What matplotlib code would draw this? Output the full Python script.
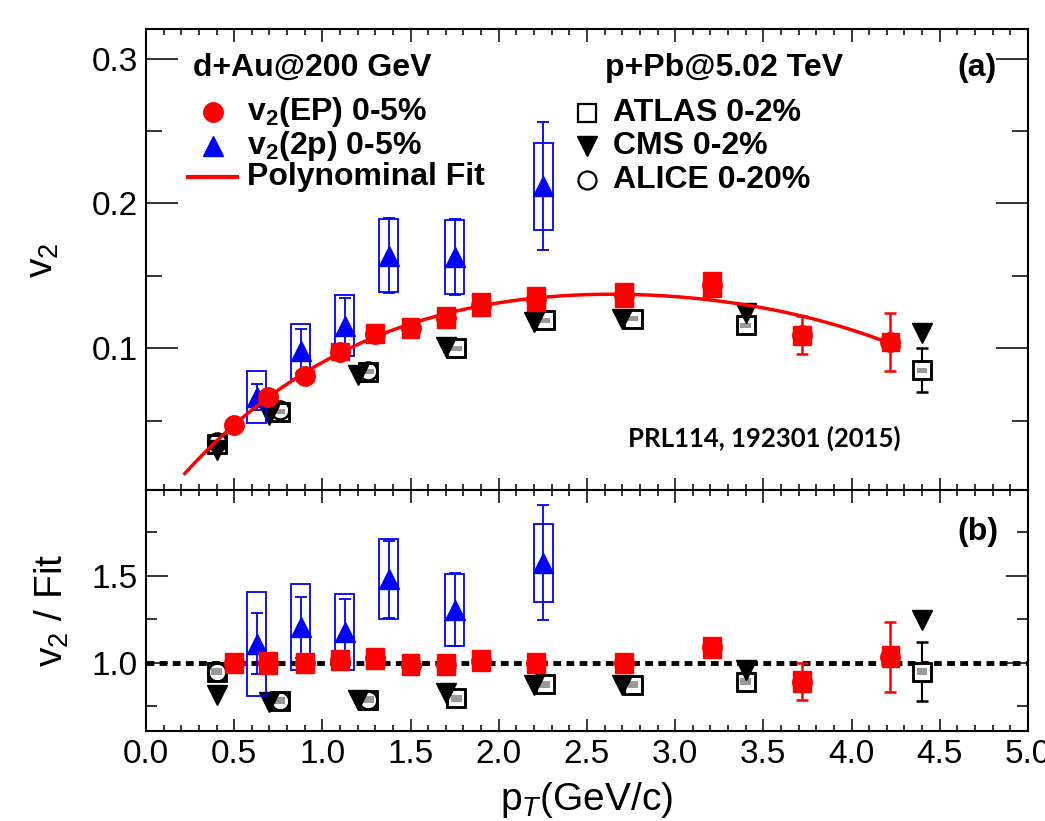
import numpy as np
import matplotlib.pyplot as plt
from matplotlib.patches import Rectangle
from matplotlib.ticker import MultipleLocator, FormatStrFormatter

plt.rcParams['font.family'] = ['Liberation Sans', 'DejaVu Sans']
plt.rcParams['mathtext.fontset'] = 'custom'
plt.rcParams['mathtext.rm'] = 'Liberation Sans'
plt.rcParams['mathtext.it'] = 'Liberation Sans:italic'
plt.rcParams['mathtext.bf'] = 'Liberation Sans:bold'

# d+Au 200 GeV, v2(EP) 0-5%
pt_ep = [0.50, 0.69, 0.90, 1.10, 1.30, 1.50, 1.70, 1.90, 2.21, 2.71, 3.21, 3.72, 4.22]
v2_ep = [0.047, 0.066, 0.081, 0.0975, 0.110, 0.114, 0.121, 0.130, 0.134, 0.137, 0.144, 0.109, 0.104]
v2_ep_stat = [0.001, 0.001, 0.001, 0.001, 0.001, 0.001, 0.001, 0.002, 0.002, 0.002, 0.002, 0.013, 0.020]
v2_ep_sys = [0.003, 0.0035, 0.004, 0.006, 0.0066, 0.0068, 0.0072, 0.0078, 0.008, 0.0082, 0.0086, 0.0065, 0.0062]
ratio_ep = [1.00, 1.00, 1.00, 1.017, 1.027, 0.989, 0.989, 1.013, 1.00, 1.00, 1.09, 0.893, 1.036]
ratio_ep_stat = [0.01, 0.01, 0.01, 0.01, 0.01, 0.01, 0.01, 0.01, 0.01, 0.01, 0.01, 0.108, 0.20]
ratio_ep_sys = [0.06, 0.062, 0.06, 0.06, 0.06, 0.06, 0.06, 0.06, 0.06, 0.06, 0.06, 0.06, 0.06]

# d+Au 200 GeV, v2(2p) 0-5%
pt_2p = [0.627, 0.877, 1.126, 1.376, 1.75, 2.252]
v2_2p = [0.066, 0.098, 0.1155, 0.164, 0.163, 0.212]
v2_2p_stat = [0.009, 0.015, 0.019, 0.026, 0.026, 0.044]
v2_2p_sys = [0.018, 0.019, 0.021, 0.0255, 0.0255, 0.030]
ratio_2p = [1.11, 1.206, 1.18, 1.48, 1.305, 1.575]
ratio_2p_stat = [0.176, 0.175, 0.19, 0.22, 0.21, 0.33]
ratio_2p_sys = [0.30, 0.246, 0.218, 0.23, 0.205, 0.225]

# p+Pb 5.02 TeV
pt_atlas = [0.40, 0.76, 1.26, 1.76, 2.26, 2.76, 3.40, 4.40]
v2_atlas = [0.034, 0.056, 0.0836, 0.0998, 0.1194, 0.1205, 0.1159, 0.0848]
v2_atlas_stat = [0.001, 0.001, 0.001, 0.001, 0.001, 0.002, 0.004, 0.015]
v2_atlas_sys = [0.0017, 0.0017, 0.0017, 0.0017, 0.0017, 0.0017, 0.0017, 0.0017]
ratio_atlas = [0.95, 0.783, 0.79, 0.797, 0.879, 0.874, 0.893, 0.95]
ratio_atlas_stat = [0.01, 0.01, 0.01, 0.01, 0.01, 0.02, 0.03, 0.17]
ratio_atlas_sys = [0.02, 0.02, 0.02, 0.02, 0.02, 0.02, 0.02, 0.02]

pt_cms = [0.40, 0.70, 1.20, 1.70, 2.20, 2.70, 3.40, 4.40]
v2_cms = [0.0295, 0.0537, 0.0813, 0.101, 0.118, 0.120, 0.124, 0.1107]
ratio_cms = [0.815, 0.778, 0.79, 0.826, 0.874, 0.874, 0.96, 1.247]

pt_alice = [0.40, 0.76, 1.26]
v2_alice = [0.035, 0.057, 0.084]
ratio_alice = [0.95, 0.783, 0.79]

# points
fit_pt = [0.22, 0.5, 1.1, 1.9, 2.2, 2.7, 3.2, 3.7, 4.27]
fit_v2 = [0.0133, 0.047, 0.097, 0.129, 0.134, 0.1375, 0.1343, 0.1217, 0.101]

RED = '#ff0000'
BLUE = '#0000ff'
GRAY = '#999999'


def boxes(ax, x, y, dy, dx, face, edge, lw, z):
    for xi, yi, di in zip(x, y, dy):
        ax.add_patch(Rectangle((xi - dx, yi - di), 2 * dx, 2 * di, facecolor=face,
                               edgecolor=edge, lw=lw, zorder=z))


def draw_panel(ax, ep, ep_stat, ep_sys, tp, tp_stat, tp_sys, at, at_stat, at_sys, cms, alice):
    # ATLAS: white-filled squares carry the stat bars, gray sys boxes, then outlines
    ax.errorbar(pt_atlas, at, yerr=at_stat, fmt='s', ms=13, mfc='white', mec='black',
                mew=1.8, color='black', elinewidth=1.5, capsize=4, zorder=3)
    boxes(ax, pt_atlas, at, at_sys, 0.03, GRAY, 'none', 0, 4)
    ax.plot(pt_atlas, at, 's', ms=13, mfc='none', mec='black', mew=1.8, zorder=5)
    ax.plot(pt_alice, alice, 'o', ms=13, mfc='none', mec='black', mew=1.8, zorder=5)
    ax.plot(pt_cms, cms, 'v', ms=14, color='black', zorder=6)

    boxes(ax, pt_2p, tp, tp_sys, 0.053, 'none', BLUE, 1.3, 6)
    ax.errorbar(pt_2p, tp, yerr=tp_stat, fmt='^', ms=14, color=BLUE,
                elinewidth=1.3, capsize=4, capthick=1.3, zorder=7)

    boxes(ax, pt_ep, ep, ep_sys, 0.05, RED, RED, 1.0, 8)
    ax.errorbar(pt_ep, ep, yerr=ep_stat, fmt='o', ms=14, color=RED,
                elinewidth=1.8, capsize=4, capthick=1.8, zorder=9)


def style_axis(ax, ymaj, ymin, ylen):
    ax.xaxis.set_major_locator(MultipleLocator(0.5))
    ax.xaxis.set_minor_locator(MultipleLocator(0.1))
    ax.yaxis.set_major_locator(MultipleLocator(ymaj))
    ax.yaxis.set_minor_locator(MultipleLocator(ymin))
    ax.xaxis.set_major_formatter(FormatStrFormatter('%.1f'))
    ax.yaxis.set_major_formatter(FormatStrFormatter('%.1f'))
    ax.tick_params(which='both', direction='in', top=True, right=True, width=1.1,
                   labelsize=24)
    ax.tick_params(axis='x', which='major', length=9, pad=6)
    ax.tick_params(axis='x', which='minor', length=4.5)
    ax.tick_params(axis='y', which='major', length=ylen, pad=6)
    ax.tick_params(axis='y', which='minor', length=ylen / 2)
    for s in ax.spines.values():
        s.set_linewidth(1.5)


fig = plt.figure(figsize=(10.45, 8.21), dpi=100)
ax1 = fig.add_axes([0.1397, 0.4032, 0.844, 0.5615])
ax2 = fig.add_axes([0.1397, 0.1096, 0.844, 0.2936])

# top panel: v2 vs pT
draw_panel(ax1, v2_ep, v2_ep_stat, v2_ep_sys, v2_2p, v2_2p_stat, v2_2p_sys,
           v2_atlas, v2_atlas_stat, v2_atlas_sys, v2_cms, v2_alice)
coef = np.polyfit(fit_pt, fit_v2, 4)
xf = np.linspace(fit_pt[0], fit_pt[-1], 200)
ax1.plot(xf, np.polyval(coef, xf), color=RED, lw=2.5, zorder=7.5)
ax1.set_xlim(0, 5)
ax1.set_ylim(0.002, 0.3206)
style_axis(ax1, 0.1, 0.05, 23)
ax1.tick_params(axis='x', labelbottom=False)

# bottom panel: ratio to fit
ax2.axhline(1.0, color='black', lw=3.5, ls=(0, (1.6, 1.1)), zorder=2)
draw_panel(ax2, ratio_ep, ratio_ep_stat, ratio_ep_sys, ratio_2p, ratio_2p_stat, ratio_2p_sys,
           ratio_atlas, ratio_atlas_stat, ratio_atlas_sys, ratio_cms, ratio_alice)
ax2.set_xlim(0, 5)
ax2.set_ylim(0.609, 1.994)
style_axis(ax2, 0.5, 0.25, 16)

# legends
tr = ax1.transAxes
bold = dict(fontsize=23, fontweight='bold', va='center', ha='left', transform=tr)
ax1.text(0.0533, 0.9154, 'd+Au@200 GeV', **bold)
ax1.plot([0.076], [0.820], 'o', ms=14, color=RED, transform=tr, clip_on=False)
ax1.text(0.1145, 0.820, r'v$_\mathbf{2}$(EP) 0-5%', **bold)
ax1.plot([0.076], [0.747], '^', ms=14, color=BLUE, transform=tr, clip_on=False)
ax1.text(0.1145, 0.747, r'v$_\mathbf{2}$(2p) 0-5%', **bold)
ax1.plot([0.0476, 0.1032], [0.678, 0.678], color=RED, lw=3, transform=tr)
ax1.text(0.1145, 0.678, 'Polynominal Fit', **bold)

ax1.text(0.5204, 0.9154, 'p+Pb@5.02 TeV', **bold)
ax1.plot([0.500], [0.818], 's', ms=13, mfc='none', mec='black', mew=1.6, transform=tr)
ax1.text(0.5295, 0.818, 'ATLAS 0-2%', **bold)
ax1.plot([0.500], [0.746], 'v', ms=14, color='black', transform=tr)
ax1.text(0.5295, 0.746, 'CMS 0-2%', **bold)
ax1.plot([0.500], [0.6725], 'o', ms=13, mfc='none', mec='black', mew=1.6, transform=tr)
ax1.text(0.5295, 0.6725, 'ALICE 0-20%', **bold)

ax1.text(0.9195, 0.9154, '(a)', **bold)
ax2.text(0.9195, 0.8257, '(b)', fontsize=23, fontweight='bold', va='center', ha='left',
         transform=ax2.transAxes)
ax1.text(0.701, 0.1128, 'PRL114, 192301 (2015)', fontsize=18.5, fontweight='bold',
         family=['Lato', 'DejaVu Sans'], ha='center', va='center', transform=tr)

# axis titles
fig.text(0.041, 0.683, r'v$_2$', rotation=90, fontsize=28, ha='center', va='center')
fig.text(0.050, 0.257, r'v$_2$ / Fit', rotation=90, fontsize=28, ha='center', va='center')
fig.text(0.5617, 0.013, r'p$_T$(GeV/c)', fontsize=28, ha='center', va='baseline')

fig.savefig('out.png', dpi=100)
